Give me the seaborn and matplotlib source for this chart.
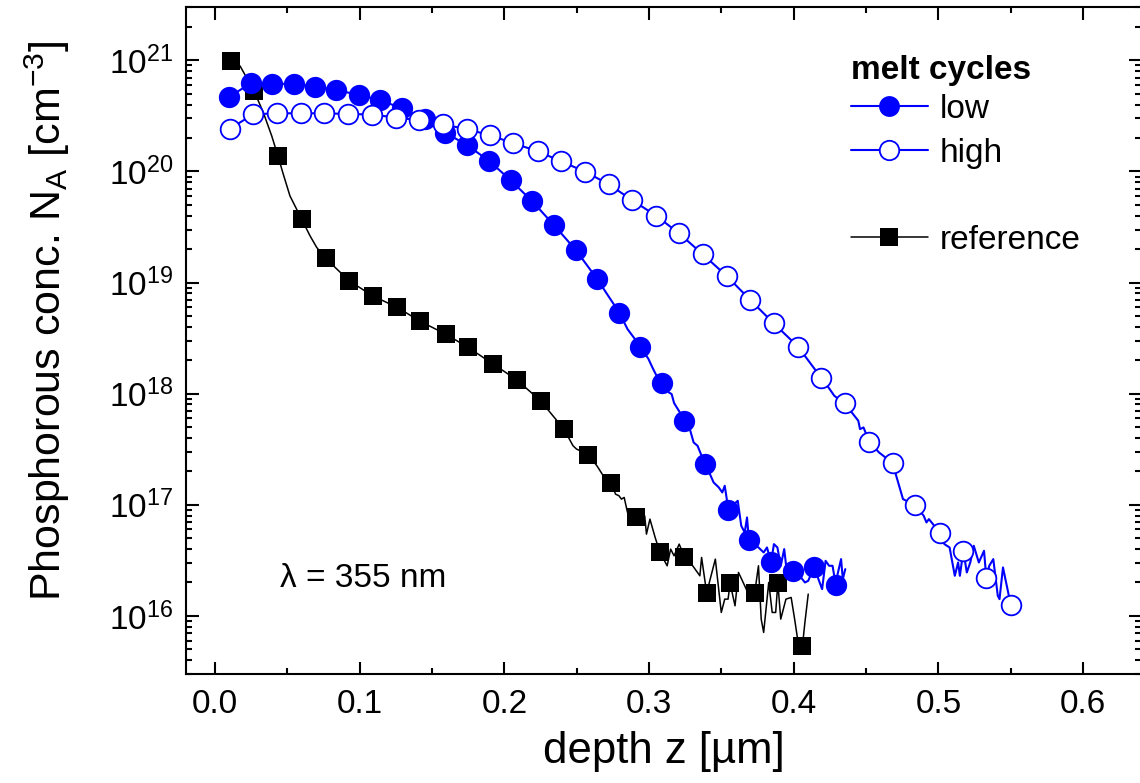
import numpy as np
import pandas as pd
import seaborn as sns
import matplotlib.pyplot as plt
from matplotlib.lines import Line2D
from matplotlib.ticker import FixedLocator, MultipleLocator, NullFormatter, LogFormatterSciNotation

# --- data (depth in um, log10 of concentration in cm^-3) ---
# melt cycles "low": symbols
low_x = [0.0097, 0.0247, 0.0392, 0.0544, 0.0691, 0.0838, 0.0995, 0.114, 0.129, 0.145,
         0.159, 0.174, 0.1896, 0.2043, 0.219, 0.2343, 0.2493, 0.2642, 0.2794, 0.294,
         0.309, 0.3244, 0.339, 0.3544, 0.369, 0.3843, 0.3993, 0.414, 0.429]
low_log = [20.67, 20.793, 20.79, 20.787, 20.763, 20.733, 20.688, 20.643, 20.568, 20.469,
           20.35, 20.238, 20.094, 19.92, 19.735, 19.516, 19.294, 19.03, 18.73, 18.416,
           18.093, 17.751, 17.367, 16.956, 16.681, 16.483, 16.408, 16.438, 16.282]
# extra points of the measured "low" trace between the symbols
low_tail_x = [0.2851, 0.2899, 0.2994, 0.3023, 0.3054, 0.3137, 0.3156, 0.3173, 0.3213, 0.3285,
              0.3308, 0.3335, 0.3363, 0.3446, 0.3482, 0.3506, 0.3523, 0.3537, 0.3613, 0.3637,
              0.3661, 0.3677, 0.3756, 0.3792, 0.3815, 0.3863, 0.3887, 0.391, 0.3934, 0.3958,
              0.4041, 0.4077, 0.41, 0.4196, 0.422, 0.4244, 0.4268, 0.4303, 0.4327, 0.4339,
              0.4356]
low_tail_log = [18.581, 18.497, 18.317, 18.236, 18.155, 18.011, 17.996, 17.915, 17.831, 17.666,
                17.561, 17.531, 17.441, 17.201, 17.156, 17.111, 17.171, 17.051, 17.036, 16.811,
                16.751, 16.886, 16.616, 16.571, 16.616, 16.646, 16.616, 16.451, 16.601, 16.331,
                16.361, 16.301, 16.316, 16.241, 16.496, 16.451, 16.451, 16.376, 16.511, 16.331,
                16.421]

# melt cycles "high": symbols
high_x = [0.0104, 0.0265, 0.0428, 0.0592, 0.0756, 0.0919, 0.1083, 0.1249, 0.1412, 0.1573,
          0.174, 0.19, 0.206, 0.223, 0.239, 0.256, 0.272, 0.288, 0.305, 0.3208,
          0.337, 0.354, 0.370, 0.386, 0.403, 0.4191, 0.4351, 0.4522, 0.4684, 0.4839,
          0.5012, 0.5172, 0.5331, 0.550]
high_log = [20.386, 20.514, 20.523, 20.523, 20.523, 20.517, 20.512, 20.485, 20.46, 20.424,
            20.38, 20.326, 20.254, 20.182, 20.092, 19.996, 19.885, 19.744, 19.6, 19.442,
            19.255, 19.055, 18.842, 18.635, 18.422, 18.14, 17.912, 17.567, 17.375, 16.997,
            16.745, 16.586, 16.337, 16.097]
high_tail_x = [0.4232, 0.428, 0.441, 0.4446, 0.4458, 0.4482, 0.4589, 0.4708, 0.4755, 0.4898,
               0.4917, 0.4934, 0.5041, 0.5077, 0.5113, 0.5136, 0.5148, 0.5196, 0.522, 0.5244,
               0.5279, 0.5315, 0.5351, 0.5379, 0.541, 0.5422, 0.5446]
high_tail_log = [18.071, 17.981, 17.816, 17.756, 17.681, 17.696, 17.471, 17.261, 17.051, 16.901,
                 16.841, 16.871, 16.646, 16.616, 16.361, 16.481, 16.361, 16.391, 16.481, 16.631,
                 16.481, 16.586, 16.451, 16.511, 16.181, 16.151, 16.436]

# reference sample: symbols
ref_x = [0.0108, 0.027, 0.0435, 0.0599, 0.0765, 0.0928, 0.109, 0.126, 0.142, 0.1594,
         0.175, 0.1923, 0.2085, 0.225, 0.2412, 0.258, 0.274, 0.291, 0.3075, 0.3244,
         0.3398, 0.356, 0.373, 0.389, 0.406]
ref_log = [20.994, 20.724, 20.139, 19.57, 19.217, 19.015, 18.88, 18.776, 18.65, 18.536,
           18.416, 18.266, 18.125, 17.936, 17.68, 17.45, 17.193, 16.887, 16.573, 16.533,
           16.207, 16.294, 16.207, 16.297, 15.728]
ref_tail_x = [0.0173, 0.0334, 0.0392, 0.0472, 0.0518, 0.0657, 0.0703, 0.2474, 0.2498, 0.264,
              0.2683, 0.2768, 0.2792, 0.2809, 0.2828, 0.2851, 0.288, 0.297, 0.2982, 0.3006,
              0.3042, 0.3125, 0.3149, 0.3173, 0.3208, 0.3285, 0.3351, 0.3363, 0.3458, 0.3499,
              0.3523, 0.3546, 0.3594, 0.3618, 0.3661, 0.3703, 0.3756, 0.3775, 0.3792, 0.3827,
              0.3851, 0.3875, 0.391, 0.3946, 0.3982, 0.4006, 0.403, 0.4077, 0.41]
ref_tail_log = [20.949, 20.53, 20.32, 19.975, 19.78, 19.42, 19.316, 17.532, 17.502, 17.35,
                17.262, 17.096, 17.081, 17.051, 17.066, 16.931, 16.931, 16.90, 16.736, 16.871,
                16.706, 16.451, 16.601, 16.541, 16.646, 16.481, 16.361, 16.526, 16.511, 16.031,
                16.151, 16.151, 16.091, 16.391, 16.271, 16.151, 16.451, 15.971, 15.851, 16.301,
                16.031, 16.031, 15.971, 16.151, 16.166, 15.971, 15.761, 15.941, 16.196]

x_ticks = [0.0, 0.1, 0.2, 0.3, 0.4, 0.5, 0.6]
y_decades = [16, 17, 18, 19, 20, 21]
y_lim = (3e15, 3e21)


def trace(xa, la, xb, lb):
    # full measured trace = symbol points plus the points in between, sorted by depth
    x = np.concatenate([xa, xb])
    l = np.concatenate([la, lb])
    order = np.argsort(x)
    return pd.DataFrame({"z": x[order], "N": 10.0 ** l[order]})


def symbols(xa, la):
    return pd.DataFrame({"z": xa, "N": 10.0 ** np.asarray(la)})


sns.set_style("ticks")
plt.rcParams["font.family"] = ["Liberation Sans", "DejaVu Sans"]
plt.rcParams["mathtext.fontset"] = "custom"
plt.rcParams["mathtext.rm"] = "Liberation Sans"
plt.rcParams["mathtext.it"] = "Liberation Sans:italic"
plt.rcParams["axes.linewidth"] = 1.5
for key in ["text.color", "axes.labelcolor", "xtick.color", "ytick.color",
            "xtick.labelcolor", "ytick.labelcolor", "axes.edgecolor"]:
    plt.rcParams[key] = "black"

fig = plt.figure(figsize=(11.4, 7.83), dpi=100)
ax = fig.add_axes([0.1632, 0.1392, 0.8377, 0.8515])
ax.set_yscale("log")

# reference (drawn first, lowest)
sns.lineplot(data=trace(ref_x, ref_log, ref_tail_x, ref_tail_log), x="z", y="N",
             estimator=None, sort=False, color="black", lw=1.1, ax=ax, zorder=2.0)
sns.scatterplot(data=symbols(ref_x, ref_log), x="z", y="N", marker="s", s=185,
                color="black", edgecolor="black", linewidth=0, ax=ax, zorder=2.1)

# low
sns.lineplot(data=trace(low_x, low_log, low_tail_x, low_tail_log), x="z", y="N",
             estimator=None, sort=False, color="blue", lw=1.5, ax=ax, zorder=2.2)
sns.scatterplot(data=symbols(low_x, low_log), x="z", y="N", marker="o", s=235,
                color="blue", edgecolor="blue", linewidth=0, ax=ax, zorder=2.3)

# high
sns.lineplot(data=trace(high_x, high_log, high_tail_x, high_tail_log), x="z", y="N",
             estimator=None, sort=False, color="blue", lw=1.5, ax=ax, zorder=2.4)
sns.scatterplot(data=symbols(high_x, high_log), x="z", y="N", marker="o", s=200,
                color="white", edgecolor="blue", linewidth=1.3, ax=ax, zorder=2.5)
ax.collections[-1].set_facecolor("white")
ax.collections[-1].set_edgecolor("blue")

ax.set_xlim(-0.02, 0.64)
ax.set_ylim(*y_lim)
ax.set_xticks(x_ticks)
ax.set_xticklabels([f"{t:.1f}" for t in x_ticks])
ax.xaxis.set_minor_locator(MultipleLocator(0.05))

# only ticks inside the visible range
major_y = [10.0 ** d for d in y_decades]
minor_y = [k * 10.0 ** d for d in range(15, 22) for k in range(2, 10)
           if y_lim[0] <= k * 10.0 ** d <= y_lim[1]]
ax.yaxis.set_major_locator(FixedLocator(major_y))
ax.yaxis.set_major_formatter(LogFormatterSciNotation())
ax.yaxis.set_minor_locator(FixedLocator(minor_y))
ax.yaxis.set_minor_formatter(NullFormatter())

ax.tick_params(which="both", direction="in", top=True, right=True, width=1.5,
               colors="black", labelsize=24)
ax.tick_params(which="major", length=9)
ax.tick_params(which="minor", length=4.5)
ax.tick_params(axis="x", which="major", pad=11)
ax.tick_params(axis="y", which="major", pad=9)
for sp in ax.spines.values():
    sp.set_color("black")
    sp.set_linewidth(1.5)

ax.set_xlabel("depth z [µm]", fontsize=31.5)
ax.set_ylabel(r"Phosphorous conc. N$_\mathdefault{A}$ [cm$^\mathdefault{-3}$]", fontsize=31)
ax.xaxis.set_label_coords(0.5, -0.085)
ax.yaxis.set_label_coords(-0.119, 0.53)

ax.text(0.045, 10 ** 16.26, "λ = 355 nm", fontsize=24, va="baseline", ha="left")

# legend: bold heading as its own text, entries below with a blank row
ax.text(0.6963, 0.8925, "melt cycles", transform=ax.transAxes, fontsize=24,
        fontweight="bold", ha="left", va="baseline")
handles = [
    Line2D([0], [0], color="blue", lw=1.5, marker="o", ms=15, mfc="blue", mec="blue", mew=0),
    Line2D([0], [0], color="blue", lw=1.5, marker="o", ms=14, mfc="white", mec="blue", mew=1.3),
    Line2D([], [], ls="none"),
    Line2D([0], [0], color="black", lw=1.1, marker="s", ms=13.5, mfc="black", mec="black", mew=0),
]
labels = ["low", "high", " ", "reference"]
ax.legend(handles, labels, loc="upper left",
          bbox_to_anchor=(0.6963, 0.870), frameon=False, fontsize=24,
          handlelength=2.3, handletextpad=0.35, labelspacing=0.38,
          borderpad=0, borderaxespad=0)

fig.savefig("out.png", dpi=100)
